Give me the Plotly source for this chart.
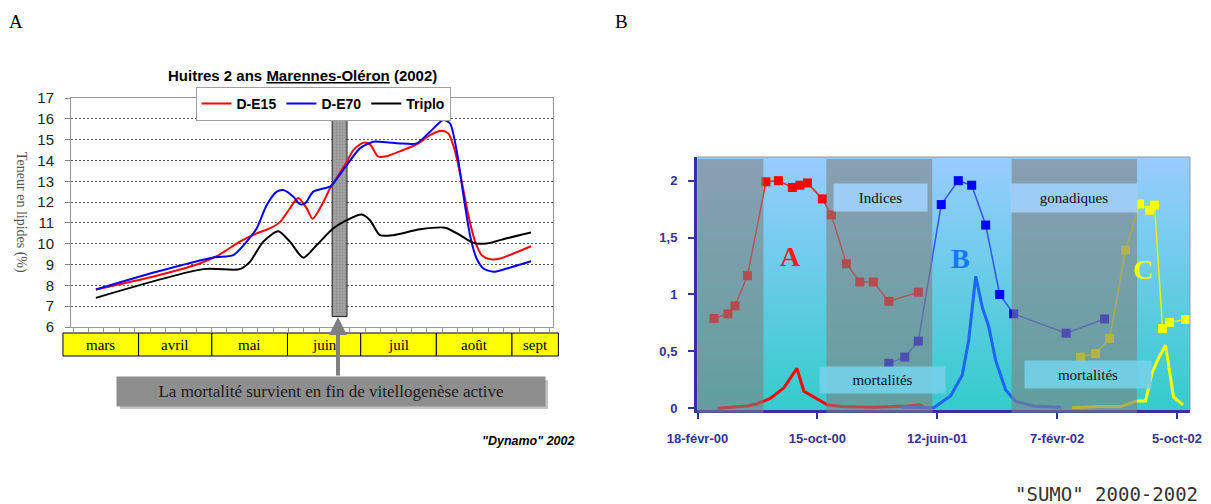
import plotly.graph_objects as go

W, H = 1211, 504


def px(x):
    return x / W


def py(y):
    return 1 - y / H


# ---------------- Panel A : lipid content, 2-year-old oysters (2002) ----------------
# x = days counted from 1 March 2002
de15_days = [13.5, 38, 56, 63, 72.5, 79.4, 85, 89, 93, 96.4, 99.9, 102.3, 106.7, 109.4,
             110.8, 116.3, 119, 123, 125.8, 129.2, 132.6, 139.4, 144.9, 150.4, 155.2,
             157.9, 160.7, 163.4, 166.1, 168.9, 171.6, 175, 179.1, 184.6, 191.8]
de15_lipids = [7.8, 8.45, 9.05, 9.4, 10.1, 10.5, 10.75, 11.05, 11.7, 12.2, 11.7, 11.2, 12.0, 12.65,
               12.9, 13.94, 14.5, 14.85, 14.77, 14.18, 14.2, 14.5, 14.77, 15.22, 15.43,
               15.3, 14.42, 12.98, 11.38, 10.1, 9.45, 9.26, 9.29, 9.53, 9.88]

de70_days = [13.5, 38.4, 61.6, 69.8, 75.3, 79.4, 83.5, 87.6, 90.3, 94.4, 97.1, 99.2, 102.6, 109.4,
             110.8, 116.3, 121.7, 127.2, 132.6, 138.1, 144.9, 150.4, 155.9, 158.6, 161.4,
             164.1, 166.8, 169.5, 172.3, 176.4, 181.9, 191.8]
de70_lipids = [7.8, 8.65, 9.34, 9.45, 10.1, 10.74, 11.86, 12.5, 12.58, 12.26, 11.9, 11.94, 12.5, 12.74,
               12.9, 13.78, 14.58, 14.9, 14.87, 14.82, 14.82, 15.38, 15.94, 15.78, 14.42,
               12.34, 10.41, 9.29, 8.81, 8.65, 8.81, 9.16]

triplo_days = [13.5, 57.5, 72.5, 76.6, 82.1, 88.2, 93, 98.5, 104, 110.8, 116.3, 122.4, 125.8,
               129.9, 135.4, 146.3, 156.6, 162.7, 168.2, 173.6, 181.8, 191.8]
triplo_lipids = [7.4, 8.78, 8.78, 9.13, 10.1, 10.6, 10.1, 9.33, 9.94, 10.74, 11.13, 11.4, 11.13,
                 10.41, 10.41, 10.69, 10.77, 10.41, 10.04, 10.01, 10.26, 10.54]

# mortality window (days) and its lipid span
mortality_days = [110.3, 116.4]
mortality_span = [6.5, 16]

months = ["mars", "avril", "mai", "juin", "juil", "août", "sept"]
month_edges = [0, 31, 61, 92, 122, 153, 184, 203]

# ---------------- Panel B : gonadic indices and mortalities ----------------
red_index_dates = ["2000-03-22", "2000-04-19", "2000-05-03", "2000-05-28", "2000-07-04", "2000-07-29",
                   "2000-08-26", "2000-09-10", "2000-09-25", "2000-10-25", "2000-11-12", "2000-12-12",
                   "2001-01-08", "2001-02-04", "2001-03-07", "2001-05-05"]
red_index = [0.79, 0.83, 0.90, 1.165, 1.99, 2.0, 1.94, 1.96, 1.98, 1.84, 1.70, 1.27, 1.11, 1.11, 0.94, 1.02]

red_mort_dates = ["2000-03-29", "2000-04-28", "2000-05-28", "2000-06-17", "2000-07-14", "2000-08-09",
                  "2000-09-04", "2000-09-18", "2000-11-04", "2000-12-01", "2001-02-05", "2001-04-13",
                  "2001-05-10", "2001-05-16"]
red_mort = [0.0, 0.01, 0.02, 0.04, 0.09, 0.18, 0.35, 0.15, 0.03, 0.015, 0.01, 0.02, 0.03, 0.0]

blue_index_dates = ["2001-03-07", "2001-04-08", "2001-05-05", "2001-06-20", "2001-07-24", "2001-08-20",
                    "2001-09-17", "2001-10-15", "2001-11-12", "2002-02-25", "2002-05-13"]
blue_index = [0.395, 0.45, 0.59, 1.79, 2.0, 1.96, 1.61, 1.0, 0.83, 0.66, 0.785]

blue_mort_dates = ["2001-04-01", "2001-05-16", "2001-06-05", "2001-07-09", "2001-08-01", "2001-08-14",
                   "2001-08-28", "2001-09-10", "2001-09-23", "2001-10-07", "2001-10-27", "2001-11-16",
                   "2001-12-22", "2002-02-14"]
blue_mort = [0.01, 0.005, 0.005, 0.11, 0.29, 0.60, 1.16, 0.89, 0.72, 0.42, 0.16, 0.06, 0.02, 0.01]

yellow_index_dates = ["2002-03-26", "2002-04-25", "2002-05-23", "2002-06-24", "2002-07-22", "2002-08-11",
                      "2002-08-21", "2002-09-06", "2002-09-20", "2002-10-22"]
yellow_index = [0.45, 0.48, 0.615, 1.39, 1.795, 1.74, 1.785, 0.70, 0.755, 0.78]

yellow_mort_dates = ["2002-03-09", "2002-05-05", "2002-06-14", "2002-07-17", "2002-08-03", "2002-08-16",
                     "2002-08-29", "2002-09-12", "2002-09-28", "2002-10-17"]
yellow_mort = [0.005, 0.015, 0.015, 0.065, 0.065, 0.31, 0.44, 0.555, 0.10, 0.03]

# resting periods shaded on the chart
rest_periods = [("2000-02-18", "2000-06-29"), ("2000-11-02", "2001-06-02"), ("2001-11-08", "2002-07-17")]

b_ticks = ["2000-02-18", "2000-10-15", "2001-06-12", "2002-02-07", "2002-10-05"]
b_ticktext = ["18-févr-00", "15-oct-00", "12-juin-01", "7-févr-02", "5-oct-02"]

# ---------------- axes geometry ----------------
XA = [3.3, 200.8]
YA = [6, 17]
XB = ["2000-02-17", "2002-10-31"]
YB = [-0.015, 2.208]

SANS = "Liberation Sans"
SERIF = "Liberation Serif"
NAVY = "#333399"

fig = go.Figure()

# --- panel A traces ---
fig.add_trace(go.Bar(
    x=[(mortality_days[0] + mortality_days[1]) / 2], y=[mortality_span[1] - mortality_span[0]],
    base=[mortality_span[0]], width=[mortality_days[1] - mortality_days[0]],
    marker=dict(color="#969696", line=dict(color="#222", width=1),
                pattern=dict(shape=".", fgcolor="#7a7a7a", bgcolor="#a2a2a2", size=3, solidity=0.3)),
    showlegend=False, hoverinfo="skip", xaxis="x", yaxis="y"))

for name, xs, ys, col in [("D-E15", de15_days, de15_lipids, "#ff0000"),
                          ("D-E70", de70_days, de70_lipids, "#0000ff"),
                          ("Triplo", triplo_days, triplo_lipids, "#000000")]:
    fig.add_trace(go.Scatter(x=xs, y=ys, name=name, mode="lines",
                             line=dict(color=col, width=2, shape="spline", smoothing=0.7),
                             xaxis="x", yaxis="y"))

# --- panel B background gradient ---
fig.add_trace(go.Scatter(
    x=[XB[0], XB[1], XB[1], XB[0], XB[0]], y=[YB[0], YB[0], YB[1], YB[1], YB[0]],
    mode="lines", line=dict(width=0), fill="toself",
    fillgradient=dict(type="vertical", colorscale=[[0, "#33cccc"], [1, "#99ccff"]]),
    showlegend=False, hoverinfo="skip", xaxis="x2", yaxis="y2"))

for xs, ys, col in [(red_mort_dates, red_mort, "#ff0000"),
                    (blue_mort_dates, blue_mort, "#1e64ff"),
                    (yellow_mort_dates, yellow_mort, "#ffff00")]:
    fig.add_trace(go.Scatter(x=xs, y=ys, mode="lines", line=dict(color=col, width=3),
                             showlegend=False, xaxis="x2", yaxis="y2"))

for xs, ys, col, lc in [(red_index_dates, red_index, "#ff0000", "#ee2222"),
                        (blue_index_dates, blue_index, "#0000ff", "#3355ee"),
                        (yellow_index_dates, yellow_index, "#ffff00", "#eeee00")]:
    fig.add_trace(go.Scatter(x=xs, y=ys, mode="lines+markers",
                             line=dict(color=lc, width=1.5),
                             marker=dict(symbol="square", size=9, color=col),
                             showlegend=False, xaxis="x2", yaxis="y2"))

shapes = []
annotations = []


def note(text, x, y, xref="paper", yref="paper", xanchor="center", yanchor="middle", **kw):
    annotations.append(dict(text=text, x=x, y=y, xref=xref, yref=yref, xanchor=xanchor,
                            yanchor=yanchor, showarrow=False, **kw))


def xdomA(d):
    return (d - XA[0]) / (XA[1] - XA[0])


def ydomA(pix):
    return (327 - pix) / (327 - 98)


# month table under panel A
for i, m in enumerate(months):
    shapes.append(dict(type="rect", xref="x domain", yref="y domain",
                       x0=xdomA(month_edges[i]), x1=xdomA(month_edges[i + 1]),
                       y0=ydomA(356), y1=ydomA(333),
                       fillcolor="#ffff00", line=dict(color="#000", width=1), layer="above"))
    note(m, xdomA((month_edges[i] + month_edges[i + 1]) / 2), ydomA(344.5),
         xref="x domain", yref="y domain", font=dict(family=SERIF, size=15, color="#000"))

# message box with shadow and arrow
shapes.append(dict(type="rect", xref="paper", yref="paper",
                   x0=px(120), x1=px(548), y0=py(409), y1=py(380),
                   fillcolor="#c4c4c4", line=dict(width=0)))
note("La mortalité survient en fin de vitellogenèse active", px(331), py(391.5),
     width=428, height=29, borderpad=0, bgcolor="#8e8e8e",
     font=dict(family=SERIF, size=17, color="#1c1c1c"))
annotations.append(dict(xref="paper", yref="paper", x=px(338), y=py(317), text="",
                        showarrow=True, ax=0, ay=60, arrowcolor="#808080", arrowwidth=4,
                        arrowhead=2, arrowsize=0.9))

# titles and labels for panel A
note("<b>Huitres 2 ans <u>Marennes-Oléron</u> (2002)</b>", px(302), py(75),
     font=dict(family=SANS, size=15, color="#000"))
note("Teneur en lipides (%)", px(21), py(212), textangle=90,
     font=dict(family=SERIF, size=14, color="#555"))
note("<b><i>\"Dynamo\" 2002</i></b>", px(576), py(441), xanchor="right",
     font=dict(family=SANS, size=12.5, color="#000"))
note("A", px(16), py(22), font=dict(family=SERIF, size=19, color="#000"))
note("B", px(621), py(22), font=dict(family=SERIF, size=19, color="#000"))
note("\"SUMO\" 2000-2002", px(1200), py(494), xanchor="right",
     font=dict(family="DejaVu Sans Mono", size=19, color="#333"))

# shaded resting periods in panel B
for a, b in rest_periods:
    shapes.append(dict(type="rect", xref="x2", yref="y2 domain", x0=a, x1=b, y0=-0.011, y1=0.992,
                       fillcolor="rgba(128,128,128,0.6)", line=dict(width=0), layer="above"))

# panel B frame (top and right)
shapes.append(dict(type="line", xref="x2 domain", yref="y2 domain", x0=0, x1=1, y0=1, y1=1,
                   line=dict(color="#999", width=1)))
shapes.append(dict(type="line", xref="x2 domain", yref="y2 domain", x0=1, x1=1, y0=0, y1=1,
                   line=dict(color="#999", width=1)))

# panel B text boxes
for text, cx, cy, w, h, bg in [("Indices", 880.5, 198, 93, 27, "rgba(160,208,250,0.92)"),
                               ("gonadiques", 1074, 198, 126, 28, "rgba(160,208,250,0.92)"),
                               ("mortalités", 882.5, 380, 125, 26, "rgba(115,208,232,0.92)"),
                               ("mortalités", 1088, 374.5, 126, 27, "rgba(115,208,232,0.92)")]:
    note(text, px(cx), py(cy), width=w, height=h, borderpad=0, bgcolor=bg,
         font=dict(family=SERIF, size=15, color="#111"))

for text, cx, cy, col in [("A", 791, 256, "#ff1a1a"), ("B", 960, 258.5, "#1a75ff"),
                          ("C", 1142.5, 269.5, "#ffff00")]:
    note(f"<b>{text}</b>", px(cx), py(cy), font=dict(family=SERIF, size=28, color=col))

fig.update_layout(
    width=W, height=H, autosize=False,
    margin=dict(l=0, r=0, t=0, b=0, pad=0, autoexpand=False),
    paper_bgcolor="white", plot_bgcolor="white",
    separators=", ",
    barmode="overlay",
    showlegend=True,
    legend=dict(orientation="h", x=px(323), xanchor="center", y=py(87), yanchor="top",
                bgcolor="white", bordercolor="#a0a0a0", borderwidth=1, itemwidth=30,
                font=dict(family=SANS, size=14, color="#000", weight="bold")),
    xaxis=dict(domain=[px(71), px(553)], range=XA, anchor="y",
               showgrid=False, zeroline=False, showticklabels=False,
               ticks="outside", ticklen=4, tickcolor="#999", tick0=4.2, dtick=6.3,
               showline=True, linecolor="#999", linewidth=1, mirror=True),
    yaxis=dict(domain=[py(327), py(98)], range=YA, anchor="x", dtick=1,
               showgrid=True, gridcolor="#555", griddash="2px,2px", gridwidth=1,
               zeroline=False, ticks="outside", ticklen=5, tickcolor="#888",
               ticklabelstandoff=8,
               tickfont=dict(family=SANS, size=15, color="#222"),
               showline=True, linecolor="#999", linewidth=1, mirror=True),
    xaxis2=dict(domain=[px(697), px(1190)], range=XB, type="date", anchor="y2",
                tickvals=b_ticks, ticktext=b_ticktext, showgrid=False, zeroline=False,
                ticks="outside", ticklen=6, tickwidth=2, tickcolor=NAVY, ticklabelstandoff=8,
                tickfont=dict(family=SANS, size=13, color=NAVY, weight="bold"),
                showline=True, linecolor=NAVY, linewidth=3),
    yaxis2=dict(domain=[py(410), py(157)], range=YB, anchor="x2",
                tickvals=[0, 0.5, 1, 1.5, 2],
                showgrid=True, gridcolor="#222", gridwidth=1.2, zeroline=False,
                ticks="outside", ticklen=6, tickwidth=2, tickcolor=NAVY, ticklabelstandoff=8,
                tickfont=dict(family=SANS, size=13, color=NAVY, weight="bold"),
                showline=True, linecolor=NAVY, linewidth=3),
    shapes=shapes,
    annotations=annotations,
)

fig.write_html("out.html")
